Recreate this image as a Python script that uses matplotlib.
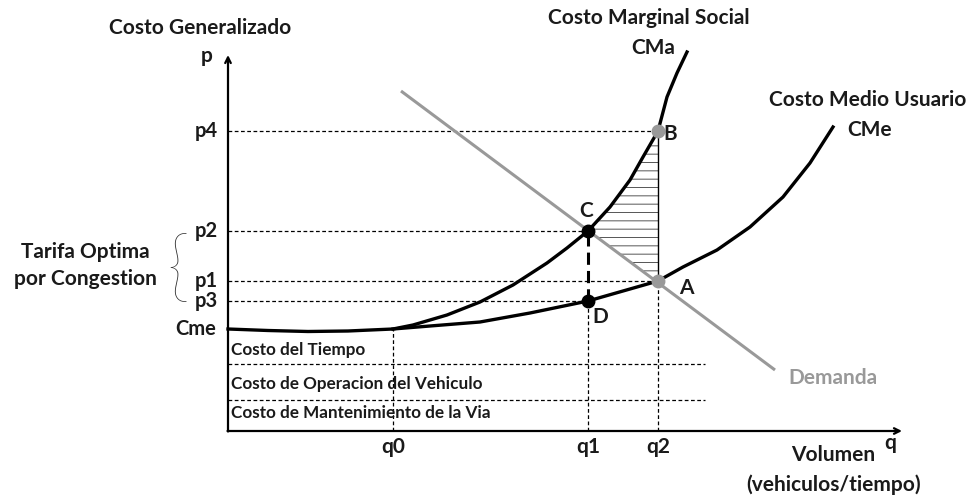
import matplotlib.pyplot as plt
import numpy as np

plt.rcParams['font.family'] = ['Lato', 'DejaVu Sans']
plt.rcParams['hatch.linewidth'] = 0.7

# niveles de precio / costo (eje p) y volumenes (eje q)
p_levels = {'p4': 6.0, 'p2': 4.0, 'p1': 3.0, 'p3': 2.6, 'Cme': 2.04}
q_levels = {'q0': 3.3, 'q1': 7.2, 'q2': 8.6}

# capas de costo bajo Cme
layer_lines = [1.34, 0.62]
layer_names = ['Costo del Tiempo', 'Costo de Operacion del Vehiculo',
               'Costo de Mantenimiento de la Via']
layer_label_y = [1.62, 0.94, 0.36]

# curva costo medio usuario (CMe)
cme_q = [0.0, 0.8, 1.6, 2.4, 3.3, 4.04, 5.04, 6.04, 7.2, 8.6,
         9.1, 9.78, 10.44, 11.1, 11.64, 12.1]
cme_p = [2.04, 2.01, 1.99, 2.0, 2.04, 2.1, 2.18, 2.36, 2.6, 3.0,
         3.28, 3.62, 4.08, 4.68, 5.36, 6.08]

# curva costo marginal social (CMa)
cma_q = [3.3, 3.7, 4.38, 5.04, 5.7, 6.38, 6.78, 7.2, 7.64, 8.04, 8.3, 8.6,
         8.78, 8.98, 9.18]
cma_p = [2.04, 2.12, 2.32, 2.58, 2.92, 3.36, 3.66, 4.0, 4.48, 5.02, 5.48, 6.0,
         6.68, 7.16, 7.58]

# demanda
dem_q = [3.46, 10.94]
dem_p = [6.8, 1.22]

fig = plt.figure(figsize=(9.75, 4.97), dpi=100)
ax = fig.add_axes([0, 0, 1, 1])
ax.set_xlim(-4.56, 14.94)
ax.set_ylim(-1.32, 8.62)
ax.axis('off')

q0, q1, q2 = q_levels['q0'], q_levels['q1'], q_levels['q2']
p4, p2, p1, p3, cme0 = [p_levels[k] for k in ['p4', 'p2', 'p1', 'p3', 'Cme']]

# area rayada
cma_q_arr = np.array(cma_q)
cma_p_arr = np.array(cma_p)
sel = (cma_q_arr >= q1) & (cma_q_arr <= q2)
poly_q = list(cma_q_arr[sel]) + [q2, q1]
poly_p = list(cma_p_arr[sel]) + [p1, p2]
ax.fill(poly_q, poly_p, facecolor='none', edgecolor='#555555', hatch='--', linewidth=0)

# ejes
ax.annotate('', xy=(0, 7.52), xytext=(0, -0.01),
            arrowprops=dict(arrowstyle='->', lw=1.6, color='black', shrinkA=0, shrinkB=0))
ax.annotate('', xy=(13.48, 0), xytext=(-0.01, 0),
            arrowprops=dict(arrowstyle='->', lw=1.6, color='black', shrinkA=0, shrinkB=0))

dash_kw = dict(color='black', lw=0.9, dashes=(3, 2))
# lineas guia horizontales
ax.plot([0, q2], [p4, p4], **dash_kw)
ax.plot([0, q1], [p2, p2], **dash_kw)
ax.plot([0, q2], [p1, p1], **dash_kw)
ax.plot([0, q1], [p3, p3], **dash_kw)
for yl in layer_lines:
    ax.plot([0, 9.54], [yl, yl], **dash_kw)
# lineas guia verticales
ax.plot([q0, q0], [0, cme0], **dash_kw)
ax.plot([q1, q1], [0, p3], **dash_kw)
ax.plot([q2, q2], [0, p1], **dash_kw)
ax.plot([q1, q1], [p3, p2], color='black', lw=2.2, dashes=(4, 2))
ax.plot([q2, q2], [p1, p4], color='black', lw=1.0)

# curvas
ax.plot(dem_q, dem_p, color='#999999', lw=2.2, solid_capstyle='butt')
ax.plot(cme_q, cme_p, color='black', lw=2.4, solid_joinstyle='round')
ax.plot(cma_q, cma_p, color='black', lw=2.4, solid_joinstyle='round')

# puntos
ax.plot([q1, q1], [p2, p3], 'o', color='black', ms=9)
ax.plot([q2, q2], [p4, p1], 'o', color='#999999', ms=9)

tk = dict(fontsize=15, fontweight='bold', color='#1a1a1a')
for name, val in p_levels.items():
    ax.text(-0.2 if name != 'Cme' else -0.24, val, name, ha='right', va='center',
            fontsize=14.5, fontweight='bold', color='#1a1a1a')
for name, val in q_levels.items():
    ax.text(val, -0.32, name, ha='center', va='center', **tk)

ax.text(-0.56, 8.06, 'Costo Generalizado', ha='center', va='center', **tk)
ax.text(-0.42, 7.5, 'p', ha='center', va='center', **tk)
ax.text(13.24, -0.24, 'q', ha='center', va='center', **tk)
ax.text(12.1, -0.48, 'Volumen', ha='center', va='center', **tk)
ax.text(12.12, -1.08, '(vehiculos/tiempo)', ha='center', va='center', **tk)
ax.text(-2.86, 3.31, 'Tarifa Optima\npor Congestion', ha='center', va='center',
        linespacing=1.45, **tk)
ax.text(-1.0, 3.2, '{', ha='center', va='center', fontsize=57,
        family='Lato', fontweight='light', color='#333333')

for name, yv in zip(layer_names, layer_label_y):
    ax.text(0.06, yv, name, ha='left', va='center', fontsize=12.3,
            fontweight='bold', color='#1a1a1a')

ax.text(11.2, 1.06, 'Demanda', ha='left', va='center', fontsize=15,
        fontweight='bold', color='#999999')
ax.text(9.16, 2.86, 'A', ha='center', va='center', **tk)
ax.text(7.44, 2.28, 'D', ha='center', va='center', **tk)
ax.text(7.16, 4.4, 'C', ha='center', va='center', **tk)
ax.text(8.84, 5.94, 'B', ha='center', va='center', **tk)

ax.text(8.42, 8.26, 'Costo Marginal Social', ha='center', va='center', **tk)
ax.text(8.5, 7.66, 'CMa', ha='center', va='center', **tk)
ax.text(12.8, 6.62, 'Costo Medio Usuario', ha='center', va='center', **tk)
ax.text(12.84, 6.02, 'CMe', ha='center', va='center', **tk)

fig.savefig('out.png', dpi=100)
